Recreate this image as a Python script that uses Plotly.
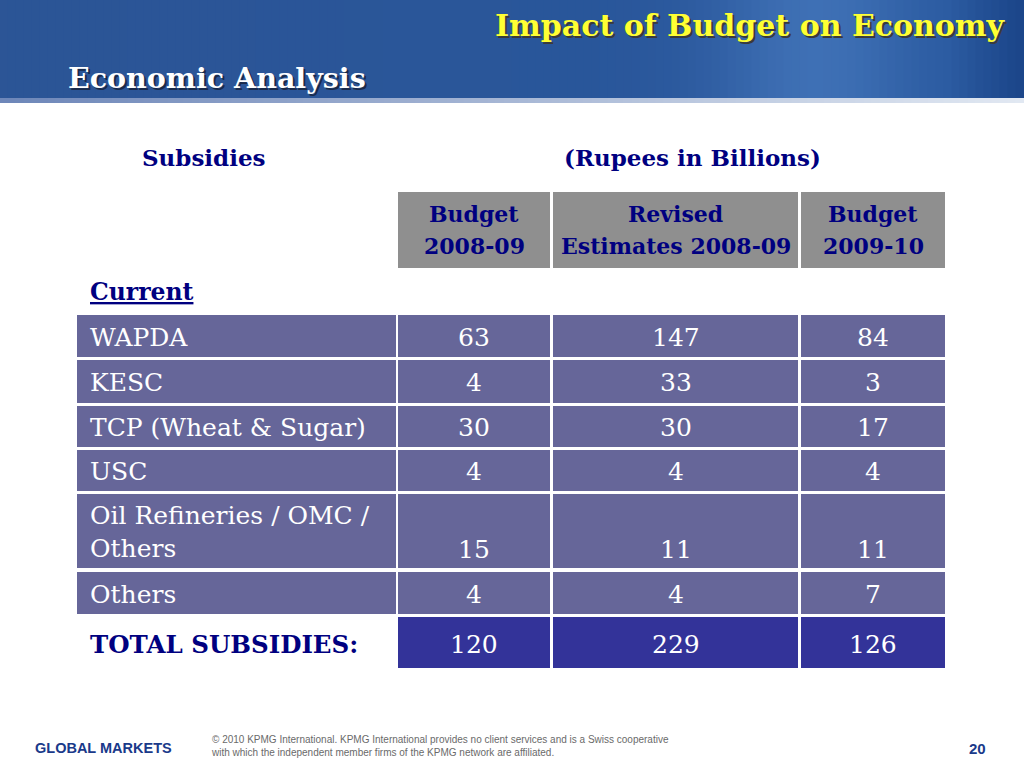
import plotly.graph_objects as go
import math

# ---------------- data ----------------
title_main = "Impact of Budget on Economy"
title_sub = "Economic Analysis"
table_title = "Subsidies"
unit_label = "(Rupees in Billions)"
col_headers = [["Budget", "2008-09"], ["Revised", "Estimates 2008-09"], ["Budget", "2009-10"]]
section_label = "Current"
categories = ["WAPDA", "KESC", "TCP (Wheat & Sugar)", "USC",
              "Oil Refineries / OMC /<br>Others", "Others"]
budget_2008_09 = [63, 4, 30, 4, 15, 4]
revised_2008_09 = [147, 33, 30, 4, 11, 4]
budget_2009_10 = [84, 3, 17, 4, 11, 7]
total_label = "TOTAL SUBSIDIES:"
totals = [120, 229, 126]
footer_left = "GLOBAL MARKETS"
footer_note = ("© 2010 KPMG International. KPMG International provides no client services and is a Swiss cooperative<br>"
               "with which the independent member firms of the KPMG network are affiliated.")
page_no = "20"

# ---------------- layout constants ----------------
W, H = 1024, 768
col_x = [(77, 396), (398, 550), (553, 798), (801, 945)]
header_y = (192, 268)
header_line_y = (214, 246)
row_y = [(315, 357), (360, 403), (406, 447), (450, 491), (494, 568), (572, 614)]
total_y = (617, 668)
ROW_FILL = "#666699"
TOTAL_FILL = "#333399"
HEAD_FILL = "#8f8f8f"
NAVY = "#000080"
SERIF = "DejaVu Serif"
FS = 25

shapes = []
ann = []

def rect(x0, y0, x1, y1, color):
    shapes.append(dict(type="rect", xref="x", yref="y", x0=x0, x1=x1, y0=y0, y1=y1,
                       fillcolor=color, line=dict(width=0), layer="below"))

def text(x, y, s, size, color, xanchor="center", yanchor="middle", family=SERIF, align="center"):
    ann.append(dict(x=x, y=y, xref="x", yref="y", text=s, showarrow=False,
                    font=dict(family=family, size=size, color=color),
                    xanchor=xanchor, yanchor=yanchor, align=align))

# ---- header band gradient ----
def lerp(a, b, t):
    return a + (b - a) * t

N = 128
for i in range(N):
    t = i / (N - 1)
    base = (lerp(44, 40, t), lerp(85, 88, t), lerp(150, 158, t))
    bump = math.exp(-((t - 0.80) / 0.10) ** 2) * 0.55
    r = base[0] + bump * 40
    g = base[1] + bump * 45
    b = base[2] + bump * 45
    if t > 0.93:
        k = (t - 0.93) / 0.07
        r, g, b = r - 12 * k, g - 18 * k, b - 20 * k
    rect(i * W / N - 0.5, 0, (i + 1) * W / N + 0.5, 98,
         "rgb(%d,%d,%d)" % (r, g, b))
for i in range(N):
    t = i / (N - 1)
    r = lerp(110, 225, t); g = lerp(135, 232, t); b = lerp(185, 242, t)
    rect(i * W / N - 0.5, 98, (i + 1) * W / N + 0.5, 103, "rgb(%d,%d,%d)" % (r, g, b))

# titles with shadow
text(1010, 27, "<b>" + title_main + "</b>", 30, "#3a3a3a", xanchor="right")
text(1008, 25, "<b>" + title_main + "</b>", 30, "#ffff33", xanchor="right")
text(68, 80, "<b>" + title_sub + "</b>", 28.5, "#1a2a4a", xanchor="left")
text(66, 78, "<b>" + title_sub + "</b>", 28.5, "#ffffff", xanchor="left")

# table titles
text(140, 157, "<b>" + table_title + "</b>", 23, NAVY, xanchor="left")
text(562, 157, "<b>" + unit_label + "</b>", 23, NAVY, xanchor="left")

# column headers
for j, lines in enumerate(col_headers):
    x0, x1 = col_x[j + 1]
    rect(x0, header_y[0], x1, header_y[1], HEAD_FILL)
    for ly, line in zip(header_line_y, lines):
        text((x0 + x1) / 2, ly, "<b>" + line + "</b>", 22, NAVY)

# section label
text(88, 292, "<b><u>" + section_label + "</u></b>", 23.5, NAVY, xanchor="left")

# rows
series = [budget_2008_09, revised_2008_09, budget_2009_10]
for i, cat in enumerate(categories):
    y0, y1 = row_y[i]
    for (x0, x1) in col_x:
        rect(x0, y0, x1, y1, ROW_FILL)
    text(88, (y0 + y1) / 2 + 1, cat, FS, "#ffffff", xanchor="left", align="left")
    vy = (y0 + y1) / 2 + 1 if "<br>" not in cat else y1 - 19
    for j, s in enumerate(series):
        x0, x1 = col_x[j + 1]
        text((x0 + x1) / 2, vy, str(s[i]), FS, "#ffffff")

# total row
text(88, (total_y[0] + total_y[1]) / 2 + 2, "<b>" + total_label + "</b>", 24.5, NAVY, xanchor="left")
for j, v in enumerate(totals):
    x0, x1 = col_x[j + 1]
    rect(x0, total_y[0], x1, total_y[1], TOTAL_FILL)
    text((x0 + x1) / 2, (total_y[0] + total_y[1]) / 2 + 2, str(v), FS, "#ffffff")

# footer
text(33, 748, "<b>" + footer_left + "</b>", 14.5, "#1a3a8a", xanchor="left", family="Liberation Sans")
text(209, 746, footer_note, 10, "#6a6a6a", xanchor="left", align="left", family="Liberation Sans")
text(988, 748, "<b>" + page_no + "</b>", 15, "#1a3a8a", xanchor="right", family="Liberation Sans")

fig = go.Figure(go.Scatter(x=[0, W], y=[0, H], mode="markers",
                           marker=dict(opacity=0), hoverinfo="skip", showlegend=False))
fig.update_layout(
    width=W, height=H, margin=dict(l=0, r=0, t=0, b=0),
    paper_bgcolor="white", plot_bgcolor="white",
    xaxis=dict(range=[0, W], visible=False, fixedrange=True),
    yaxis=dict(range=[H, 0], visible=False, fixedrange=True),
    shapes=shapes, annotations=ann, showlegend=False,
)
fig.write_html("out.html", config={"displayModeBar": False},
               post_script="document.body.style.margin='0';document.body.style.overflow='hidden';")
